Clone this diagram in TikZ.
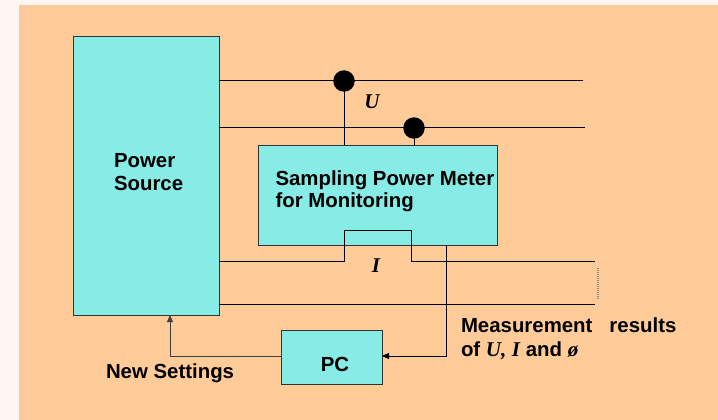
\documentclass[tikz,border=0pt]{standalone}
\usepackage{fontspec}
\setmainfont{Liberation Sans}
\newfontfamily\tms{Liberation Serif}
\usetikzlibrary{arrows.meta}
\definecolor{outerbg}{RGB}{255,246,244}
\definecolor{peach}{RGB}{255,204,153}
\definecolor{cyanbox}{RGB}{136,236,230}
\tikzset{
  blk/.style={draw=black!80, fill=cyanbox, line width=1pt, inner sep=0pt, outer sep=0pt},
  wire/.style={draw=black, line width=1pt},
  txt/.style={inner sep=0pt, outer sep=0pt, font=\fontsize{20.4}{23}\selectfont\bfseries},
  sym/.style={inner sep=0pt, outer sep=0pt, font=\fontsize{21}{23}\selectfont\tms\bfseries\itshape},
  dot/.style={circle, fill=black, minimum size=21.5pt, inner sep=0pt},
  arr/.style={-{Triangle[length=7pt,width=6pt]}}
}
\begin{document}
\begin{tikzpicture}[x=1pt,y=-1pt]
\fill[outerbg] (0,0) rectangle (718,420);
\fill[peach] (19,5) rectangle (718,420);
\useasboundingbox (0,0) rectangle (718,420);

% boxes
\node[blk, anchor=north west, minimum width=146pt, minimum height=278pt] (ps) at (73,37) {};
\node[blk, anchor=north west, minimum width=239pt, minimum height=100pt] (pm) at (258,145) {};
\node[blk, anchor=north west, minimum width=101pt, minimum height=54pt] (pc) at (281,330) {};

% coordinates for wires
\coordinate (a1) at (219,81);
\coordinate (a2) at (583,81);
\coordinate (b1) at (219,127);
\coordinate (b2) at (585,127);
\coordinate (c1) at (219,261);
\coordinate (c2) at (595,261);
\coordinate (d1) at (219,304);
\coordinate (d2) at (595,304);
\coordinate (m1) at (446,245);
\coordinate (ns) at (170,315);

\draw[wire] (a1) -- (a2);
\draw[wire] (b1) -- (b2);
\draw[wire] (c1) -- (344,261) -- (344,230) -- (411,230) -- (411,261) -- (c2);
\draw[wire] (d1) -- (d2);

% voltage taps
\node[dot] (v1) at (344,81) {};
\node[dot] (v2) at (414,128) {};
\draw[wire] (v1.center) -- (v1.center |- pm.north);
\draw[wire] (v2.south) -- (v2.south |- pm.north);

% dotted end
\draw[draw=black!45, line width=1.6pt, dash pattern=on 1pt off 1pt] (598,268) -- (598,299);

% measurement results to PC
\draw[wire, arr] (m1) |- (pc.east |- 0,356) ;
% new settings
\draw[wire, draw=black!75, arr] (pc.west |- 0,356) -| (ns);

% texts
\node[txt, anchor=base west] (t1) at (114,167) {Power};
\node[txt, anchor=base west] (t2) at (114,190) {Source};
\node[txt, anchor=base west] (t3) at (275.5,185) {Sampling Power Meter};
\node[txt, anchor=base west] (t4) at (275.5,207) {for Monitoring};
\node[txt, anchor=base west] (t5) at (461,332) {Measurement\hspace{17pt}results};
\node[txt, anchor=base west] (t6) at (461,356) {of {\tms\itshape\fontsize{21}{23}\selectfont U,} {\tms\itshape\fontsize{21}{23}\selectfont I} and {\tms\itshape\fontsize{21}{23}\selectfont ø}};
\node[txt, anchor=base west] (t7) at (106,378) {New Settings};
\node[txt, anchor=base] (t8) at (335,371) {PC};
\node[sym] (lu) at (372,102) {U};
\node[sym] (li) at (376,266) {I};
\end{tikzpicture}
\end{document}
